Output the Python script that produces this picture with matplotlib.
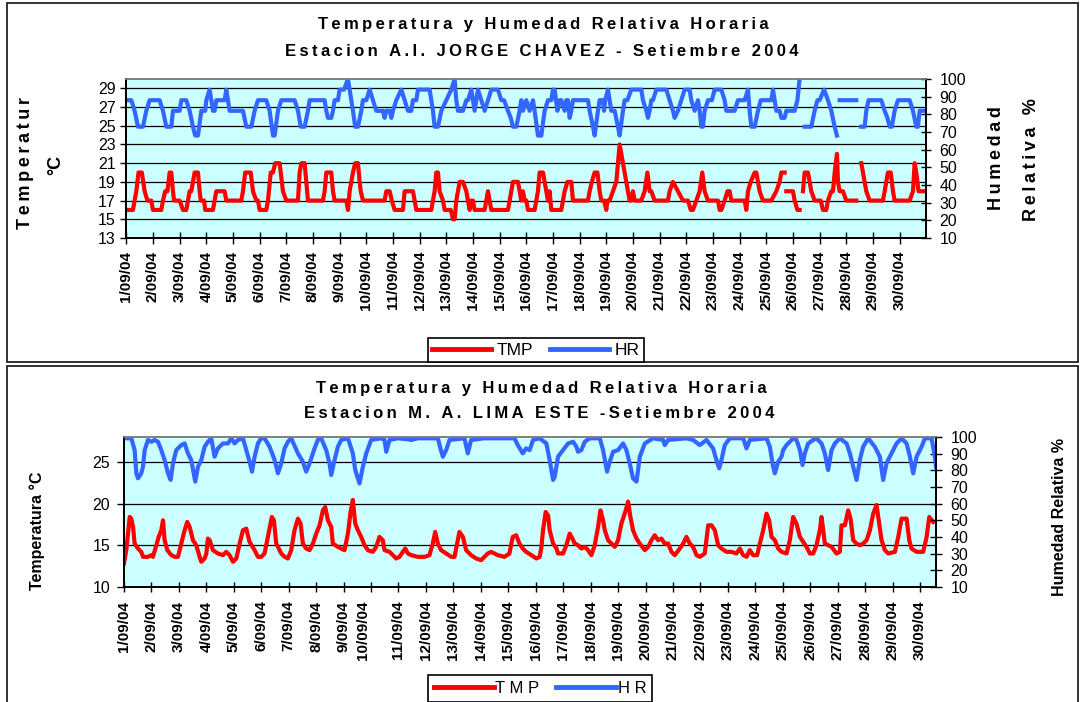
import numpy as np
import matplotlib
matplotlib.use("Agg")
import matplotlib.pyplot as plt
from matplotlib import font_manager as fm
from matplotlib.lines import Line2D
from matplotlib.patches import Rectangle

nan = np.nan
GAP = (nan, nan)

# ------------------------------------------------------------------ data
day_labels = [f"{d}/09/04" for d in range(1, 31)]

# Estacion A.I. Jorge Chavez : (hour from 1/09 00h, value)
jc_tmp_pts = [
    (0, 16), (6, 16), (7.5, 17), (9, 18), (11, 20), (14, 20), (16.5, 18), (19, 17), (22.5, 17), (24, 16),
    (31.5, 16), (33, 17), (35, 18), (37, 18), (39, 20), (40.5, 20), (42, 18), (43, 17), (48, 17),
    (51, 16), (54, 16), (55.5, 17), (57, 18), (58.5, 18), (61.5, 20), (64.5, 20), (66, 18), (67, 17), (70, 17),
    (71, 16), (78, 16), (79.5, 17), (81, 18), (88.5, 18), (90, 17), (103.5, 17),
    (105, 18), (107, 20), (112, 20), (114, 18), (117, 17), (118.5, 17), (120, 16), (126, 16), (127.5, 17),
    (130, 20), (132, 20), (134, 21), (138, 21), (140, 19), (141, 18), (144, 17), (154.5, 17),
    (156, 20), (157.5, 21), (160.5, 21), (162, 19), (163.5, 17), (177, 17), (178.5, 18), (180, 20), (184.5, 20),
    (186, 18), (187.5, 17), (198, 17), (199.5, 16), (201, 18), (204, 20), (206, 21), (208.5, 21), (210, 19),
    (211, 18), (213, 17), (232.5, 17), (234, 18), (237, 18), (239, 17), (241.5, 16), (249, 16), (250.5, 18),
    (258, 18), (259.5, 17), (261, 16), (274.5, 16), (276, 17), (277.5, 18), (279, 20), (280.5, 20), (282, 18),
    (285, 17), (286.5, 16), (292, 16), (294, 15), (295.5, 15), (297, 17), (300, 19), (303, 19), (306, 18),
    (307.5, 17), (309, 16), (310.5, 17), (312, 17), (313.5, 16), (322.5, 16), (324, 17), (325.5, 18), (327, 17),
    (328.5, 16), (343.5, 16), (345, 17), (348, 19), (352.5, 19), (354, 18), (355.5, 17), (357, 18), (358.5, 17),
    (360, 17), (361.5, 16), (367.5, 16), (369, 17), (370.5, 18), (372, 20), (375, 20), (376.5, 19), (378, 18),
    (379.5, 17), (381, 18), (382.5, 16), (391.5, 16), (393, 17), (394.5, 18), (397, 19), (400.5, 19), (402, 17),
    (415.5, 17), (417, 18), (419, 19), (421.5, 20), (424, 20), (426, 18), (427.5, 17), (430, 17), (432, 16),
    (433, 17), (435, 17), (438, 18), (441, 19), (444, 23), (447, 21), (450, 19), (453, 17), (454.5, 17),
    (456, 18), (457.5, 17), (463.5, 17), (466.5, 18), (469, 20), (471, 18), (472.5, 18), (475.5, 17),
    (487.5, 17), (489, 18), (492, 19), (496.5, 18), (501, 17), (505.5, 17), (508, 16), (510, 16), (513, 17),
    (516, 18), (518.4, 20), (520.5, 18), (523.5, 17), (532.5, 17), (534, 16), (535.5, 16), (538.5, 17),
    (541, 18), (543, 18), (544.5, 17), (556.5, 17), (558, 16), (559.5, 18), (562, 19), (565.5, 20), (567, 20),
    (570, 18), (573, 17), (580.5, 17), (585, 18), (588, 19), (589.5, 20), (592.5, 20), GAP,
    (594, 18), (600, 18), (601.5, 17), (604, 16), (606, 16), GAP,
    (609, 18), (610.5, 20), (613.5, 20), (616.5, 18), (619.5, 17), (625, 17), (627, 16), (630, 16),
    (631.5, 17), (634.5, 18), (636, 18), (637.5, 20), (639.6, 22), (640.5, 19), (642, 18), (645, 18),
    (648, 17), (657, 17), GAP,
    (661.5, 21), (663, 20), (664.5, 19), (666, 18), (669, 17), (681, 17), (682.5, 18), (685.5, 20), (688, 20),
    (690, 18), (691.5, 17), (705, 17), (708, 18), (709.5, 21), (711, 20), (713, 18), (720, 18),
]

jc_hr_pts = [
    (0, 88), (4.5, 88), (7.5, 82), (10.5, 73), (15, 73), (18, 82), (21, 88), (30, 88), (33, 82), (36, 73),
    (40.5, 73), (42, 82), (48, 82), (49.5, 88), (54, 88), (57, 82), (60, 73), (62, 68), (64.5, 68), (67.5, 82),
    (71, 82), (72, 88), (75, 94), (76.5, 88), (78, 82), (79.5, 82), (81, 88), (88.5, 88), (90, 94), (91.5, 88),
    (93, 82), (105, 82), (108, 73), (112.5, 73), (115.5, 82), (118.5, 88), (126, 88), (129, 82), (132, 68),
    (133.5, 68), (136.5, 82), (139.5, 88), (151.5, 88), (154.5, 82), (157, 73), (160.5, 73), (163.5, 82),
    (165, 88), (178.5, 88), (180, 82), (181.5, 78), (184.5, 78), (186, 82), (187.5, 88), (190.5, 88),
    (192, 94), (196, 94), (199.5, 100), (201, 94), (202.5, 88), (204, 82), (206, 73), (208.5, 73),
    (211.5, 82), (213, 88), (216, 88), (219, 94), (222, 88), (225, 82), (231, 82), (232.5, 78), (234, 82),
    (237, 82), (238.5, 78), (240, 82), (243, 88), (247.5, 94), (250.5, 88), (253.5, 82), (256.5, 82),
    (258, 88), (261, 88), (262.5, 94), (273, 94), (274.5, 88), (276, 82), (277.5, 73), (280.5, 73),
    (283.5, 82), (288, 88), (292.5, 94), (295.5, 100), (297, 88), (298.5, 82), (303, 82), (306, 88),
    (307.5, 88), (310.5, 94), (313.5, 82), (316.5, 94), (319.5, 88), (322.5, 82), (325.5, 88), (328.5, 94),
    (334.5, 94), (337.5, 88), (340, 88), (343.5, 82), (346, 78), (348, 73), (351, 73), (354, 82),
    (355.5, 88), (357, 82), (360, 88), (363, 82), (366, 88), (367.5, 82), (370.5, 68), (373.5, 68),
    (376.5, 82), (379.5, 88), (382.5, 88), (384, 94), (385.5, 94), (388, 82), (390, 88), (391.5, 88),
    (394.5, 82), (396, 88), (397.5, 88), (399, 78), (400.5, 82), (402, 88), (415.5, 88), (417, 82),
    (420, 73), (421.5, 68), (424.5, 82), (426, 88), (429, 88), (430, 82), (431, 88), (433.5, 94), (435, 88),
    (436.5, 82), (439.5, 82), (442.5, 73), (444, 68), (447, 82), (448.5, 88), (451, 88), (454.5, 94),
    (463.5, 94), (465, 88), (468, 82), (469.5, 78), (471, 82), (472.5, 88), (474, 88), (477, 94), (486, 94),
    (489, 88), (492, 82), (493.5, 78), (496.5, 82), (499.5, 88), (502.5, 94), (507, 94), (508.5, 88),
    (511.5, 82), (514.5, 88), (516, 82), (517.5, 73), (519, 73), (520.5, 82), (523.5, 88), (527, 88),
    (529.5, 94), (535.5, 94), (538.5, 88), (540, 82), (547.5, 82), (550.5, 88), (556.5, 88), (559.5, 94),
    (561, 82), (562.5, 73), (565.5, 73), (568.5, 82), (571, 88), (580.5, 88), (582, 94), (583.5, 88),
    (585, 82), (588, 82), (589.5, 78), (592.5, 78), (594, 82), (601.5, 82), (604, 88), (606, 100), GAP,
    (610.5, 73), (616.5, 73), (619.5, 82), (622, 88), (624, 88), (628, 94), (631.5, 88), (634.5, 82),
    (637.5, 73), (639.6, 68), GAP,
    (642, 88), (657, 88), GAP,
    (661.5, 73), (664.5, 73), (666, 82), (668, 88), (679.5, 88), (682.5, 82), (685, 78), (687, 73),
    (689, 73), (691.5, 82), (694.5, 88), (705, 88), (708, 82), (711, 73), (712.5, 73), (714, 82), (720, 82),
]

# Estacion M.A. Lima Este : (hour index, value)
le_tmp_pts = [
    (0, 12.8), (2, 14.4), (5, 18.4), (6.4, 18.2), (7.9, 17.2), (9.3, 15.2), (12.2, 14.6), (15.1, 14.2),
    (16.6, 13.6), (21, 13.6), (23.9, 13.8), (25.3, 13.6), (28.3, 15.0), (30.3, 16.0), (32.6, 16.8),
    (34.1, 18.0), (35.5, 15.6), (37.9, 14.4), (41.4, 13.8), (44.3, 13.6), (47.2, 13.6), (50.1, 15.2),
    (53, 16.8), (55.3, 17.8), (57.4, 17.2), (60.3, 15.6), (63.2, 15.0), (66.1, 13.6), (67.6, 13.0),
    (70.5, 13.4), (72, 14.0), (73.4, 15.8), (74.9, 15.6), (77.8, 14.4), (82.1, 14.0), (86.5, 13.8),
    (89.4, 14.2), (92.3, 13.8), (95.3, 13.0), (98.2, 13.4), (101.1, 15.2), (104, 16.8), (106.9, 17.0),
    (109.8, 15.4), (114.2, 14.4), (117.1, 13.6), (120, 13.6), (122.9, 14.0), (125.8, 16.0), (129.3, 18.4),
    (131.1, 18.0), (133.1, 15.2), (137.5, 14.0), (140.4, 13.6), (143.3, 13.4), (146.2, 14.4), (149.1, 16.8),
    (152.1, 18.2), (154.4, 17.6), (156.4, 15.2), (159.3, 14.6), (162.3, 14.4), (165.2, 15.2), (168.1, 16.4),
    (171, 17.4), (173.9, 19.2), (175.9, 19.6), (178.3, 18.0), (181.2, 17.2), (182.6, 15.2), (187, 14.8),
    (189.9, 14.6), (192.8, 14.4), (195.8, 16.4), (198.1, 19.0), (200.1, 20.45), (202.2, 17.6), (204.5, 16.8),
    (207.4, 16.0), (210.3, 15.0), (213.2, 14.4), (217.6, 14.2), (220.5, 14.8), (223.4, 16.0), (226.3, 15.6),
    (227.8, 14.4), (232.2, 14.2), (235.1, 13.8), (238, 13.4), (240.9, 13.6), (243.8, 14.2), (245.9, 14.6),
    (248.2, 14.0), (251.1, 13.8), (256.9, 13.6), (262.8, 13.6), (267.1, 13.8), (270, 15.2), (272.1, 16.6),
    (274.4, 15.2), (277.3, 14.4), (281.7, 14.0), (286.1, 13.6), (289, 13.6), (291.9, 15.6), (293.3, 16.6),
    (296.3, 16.0), (299.2, 14.4), (303.5, 13.8), (307.9, 13.4), (312.3, 13.2), (315.2, 13.6), (318.1, 14.0),
    (321, 14.2), (326.8, 13.8), (332.7, 13.6), (337, 14.0), (339.9, 16.0), (342.9, 16.2), (345.8, 15.2),
    (348.7, 14.6), (351.6, 14.2), (356.2, 13.8), (360.6, 13.4), (363.5, 13.6), (365, 14.8), (366.4, 16.8),
    (368.7, 19.0), (370.8, 18.6), (372.2, 16.8), (375.2, 15.2), (378.1, 14.6), (379.5, 14.0), (383.9, 14.0),
    (386.8, 15.0), (389.7, 16.4), (392.1, 15.8), (394.1, 15.2), (397, 15.0), (399.9, 14.6), (402.9, 14.8),
    (405.8, 14.4), (408.7, 13.8), (411.6, 15.0), (414.5, 17.2), (416.6, 19.2), (418.9, 18.0), (420.4, 16.8),
    (423.3, 15.6), (426.2, 15.2), (429.1, 14.8), (432, 15.6), (434.9, 17.6), (438.7, 19.2), (440.8, 20.25),
    (442.8, 18.4), (445.1, 16.8), (448.1, 15.8), (451, 15.2), (455.4, 14.4), (458.3, 14.8), (461.2, 15.6),
    (464.1, 16.2), (467, 15.6), (469.9, 15.8), (472.8, 15.2), (475.8, 15.2), (478.7, 14.2), (481.6, 13.8),
    (486, 14.6), (488.9, 15.2), (491.8, 16.0), (494.7, 15.2), (497.6, 14.8), (500.6, 13.8), (503.5, 13.6),
    (507.8, 14.0), (510.8, 17.4), (513.7, 17.4), (516.6, 16.8), (519.5, 15.0), (522.4, 14.6), (526.8, 14.2),
    (531.2, 14.2), (535.5, 14.0), (538.5, 14.6), (541.4, 13.8), (544.3, 13.6), (547.2, 14.4), (550.1, 13.8),
    (553.6, 13.8), (556, 15.2), (558.9, 16.8), (561.8, 18.8), (564.1, 18.0), (566.2, 16.0), (569.1, 15.6),
    (572, 14.6), (574.9, 14.2), (579.3, 14.0), (582.2, 15.6), (585.1, 18.4), (588, 17.6), (591, 16.0),
    (593.9, 15.4), (596.8, 14.8), (599.7, 14.0), (602.6, 14.0), (605.5, 15.0), (608.4, 16.8), (609.9, 18.4),
    (611.4, 16.8), (612.8, 15.2), (615.7, 15.0), (618.7, 14.8), (623, 14.0), (625.9, 14.2), (627.4, 17.4),
    (630.3, 17.4), (633.2, 19.2), (635.3, 18.2), (637.6, 15.6), (640.5, 15.2), (643.4, 15.0), (646.3, 15.2),
    (649.3, 15.6), (652.2, 16.8), (655.1, 18.8), (658, 19.85), (660.3, 17.6), (662.4, 15.6), (665.3, 14.4),
    (668.2, 14.0), (674.1, 14.2), (677, 16.0), (679.9, 18.2), (684.3, 18.2), (686.6, 15.6), (688.6, 14.6),
    (693, 14.2), (698.8, 14.2), (701.8, 16.0), (704.1, 18.4), (707.6, 17.8),
]

le_hr_pts = [
    (0, 99.4), (6.4, 99.4), (9.3, 92.3), (10.8, 78.3), (12.2, 75.3), (15.1, 78.3), (16.6, 82.3), (18.1, 92.3),
    (19.5, 95.3), (21, 98.4), (23.9, 97.3), (26.8, 98.4), (29.7, 97.3), (32.6, 92.3), (35.5, 86.3),
    (38.5, 78.3), (40.8, 74.3), (42.8, 84.3), (45.7, 92.3), (50.1, 95.3), (53, 96.3), (55.9, 90.3),
    (58.8, 86.3), (62.3, 73.3), (64.7, 82.3), (67.6, 86.3), (70.5, 94.3), (73.4, 97.3), (76.3, 99.4),
    (79.2, 88.3), (82.1, 93.3), (86.5, 96.3), (90.9, 96.3), (93.8, 99.4), (96.7, 96.3), (99.6, 98.4),
    (104, 99.4), (106.9, 92.3), (109.8, 85.3), (111.9, 79.3), (114.2, 88.3), (117.1, 96.3), (120, 99.4),
    (122.9, 99.4), (127.3, 94.3), (131.7, 86.3), (134.6, 78.3), (137.5, 84.3), (140.4, 93.3), (143.3, 97.3),
    (146.2, 99.4), (152.1, 90.3), (156.4, 85.3), (159.3, 79.3), (162.3, 84.3), (166.6, 93.3), (169.5, 98.4),
    (172.4, 99.4), (176.8, 92.3), (179.7, 84.3), (181.2, 77.3), (184.1, 86.3), (187, 94.3), (189.9, 98.4),
    (195.8, 99.4), (200.1, 90.3), (202.2, 80.3), (205.9, 72.2), (208.9, 82.3), (211.8, 90.3), (216.1, 98.4),
    (224.9, 99.4), (227.8, 98.4), (229.3, 91.3), (232.2, 98.4), (239.4, 99.4), (248.2, 98.8), (251.1, 98.4),
    (256.9, 99.4), (274.4, 99.4), (276.7, 93.3), (278.8, 88.3), (281.7, 92.3), (284.6, 98.4), (297.7, 99.4),
    (300.6, 90.3), (303.5, 98.4), (315.2, 99.4), (341.4, 99.4), (344.3, 95.3), (348.7, 90.3), (351.6, 93.3),
    (354.7, 92.3), (357.7, 98.4), (363.5, 99.4), (369.3, 96.3), (372.2, 86.3), (375.2, 74.3), (376.6, 76.3),
    (379.5, 88.3), (383.9, 92.3), (388.3, 96.3), (392.7, 97.3), (395.6, 94.3), (397, 91.3), (399.9, 92.3),
    (402.9, 97.3), (407.2, 99.4), (416, 99.4), (418.9, 92.3), (422.4, 79.3), (424.7, 85.3), (427.7, 91.3),
    (432, 92.3), (436.4, 96.3), (439.3, 92.3), (442.2, 84.3), (445.1, 75.3), (448.1, 73.3), (449.5, 80.3),
    (451, 88.3), (455.4, 96.3), (462.6, 99.4), (471.4, 98.4), (472.8, 95.3), (475.8, 98.4), (491.8, 99.4),
    (497.6, 98.4), (503.5, 95.3), (509.3, 98.4), (515.1, 93.3), (518, 86.3), (520.4, 81.3), (522.4, 86.3),
    (525.3, 95.3), (529.7, 99.4), (541.4, 99.4), (544.3, 93.3), (547.2, 98.4), (561.8, 99.4), (564.7, 94.3),
    (567.6, 82.3), (569.1, 78.3), (572, 85.3), (574.9, 88.3), (576.4, 92.3), (579.3, 95.3), (582.2, 97.3),
    (585.1, 99.4), (588, 98.4), (591, 92.3), (593.3, 83.3), (595.3, 90.3), (598.2, 96.3), (602.6, 98.4),
    (605.5, 99.4), (609.9, 96.3), (612.8, 90.3), (615.7, 80.3), (618.7, 92.3), (621.6, 96.3), (625.9, 99.4),
    (631.8, 96.3), (634.7, 90.3), (637.6, 82.3), (640.5, 74.3), (643.4, 86.3), (646.3, 94.3), (650.7, 99.4),
    (656.5, 94.3), (660.9, 88.3), (663.8, 74.3), (666.7, 84.3), (671.1, 90.3), (675.5, 96.3), (679.9, 99.4),
    (684.3, 96.3), (687.2, 88.3), (690.1, 78.3), (693, 88.3), (697.4, 94.3), (700.3, 99.4), (706.1, 99.4),
    (709, 88.3), (710, 82.3),
]

# -------------------------------------------------------------- styling
RED = "#FF0000"
BLUE = "#3366FF"
CYAN = "#CCFFFF"
W, H = 1080, 702

names = {f.name for f in fm.fontManager.ttflist}
NARROW = "Liberation Sans Narrow" if "Liberation Sans Narrow" in names else "Liberation Sans"
NSZ = 13 if NARROW == "Liberation Sans Narrow" else 11
plt.rcParams["font.family"] = ["Liberation Sans", "DejaVu Sans"]


def spaced(s):
    return "\u2009".join(s)


def fx(px):
    return px / W


def fy(py):
    return 1 - py / H


def xy(pts):
    a = np.array(pts, dtype=float)
    return a[:, 0], a[:, 1]


fig = plt.figure(figsize=(10.8, 7.02), dpi=100)

# panel frames
fig.patches.append(Rectangle((fx(7), fy(362)), fx(1078) - fx(7), fy(3) - fy(362),
                             transform=fig.transFigure, fill=False, ec="#222222", lw=1.3))
fig.patches.append(Rectangle((fx(7), -0.01), fx(1078) - fx(7), fy(366) + 0.01,
                             transform=fig.transFigure, fill=False, ec="#222222", lw=1.3))


def style_axes(ax, axr):
    ax.set_facecolor(CYAN)
    for a in (ax, axr):
        a.spines["top"].set_color("#808080")
        a.spines["top"].set_linewidth(1.2)
        for s in ("left", "bottom", "right"):
            a.spines[s].set_color("black")
            a.spines[s].set_linewidth(1.4)
    ax.grid(axis="y", color="black", lw=0.9)
    ax.grid(axis="x", visible=False)
    ax.set_axisbelow(True)


# ------------------------------------------------------------ top panel
ax1 = fig.add_axes([fx(126.3), fy(238), fx(926.3) - fx(126.3), fy(79) - fy(238)])
ax1r = ax1.twinx()
style_axes(ax1, ax1r)
ax1.set_xlim(0, 720)
ax1.set_ylim(13, 30)
ax1.set_yticks(range(13, 30, 2))
ax1r.set_ylim(10, 100)
ax1r.set_yticks(range(10, 101, 10))
ax1.set_xticks(range(0, 720, 24))
ax1.set_xticklabels(day_labels, rotation=90, family=[NARROW, "DejaVu Sans"],
                    fontweight="bold", fontsize=NSZ, va="top", ha="center")
ax1.tick_params(axis="x", direction="inout", length=8.5, width=1, pad=5)
ax1.tick_params(axis="y", direction="out", length=4.5, width=1, pad=3, labelsize=11.5)
ax1r.tick_params(axis="y", direction="inout", length=7, width=1, pad=6, labelsize=11.5)

x, y = xy(jc_tmp_pts)
ax1.plot(x, y, color=RED, lw=3.0, solid_joinstyle="round")
x, y = xy(jc_hr_pts)
ax1r.plot(x, y, color=BLUE, lw=3.0, solid_joinstyle="round")

tkw = dict(ha="center", va="center", fontweight="bold", fontsize=12)
fig.text(fx(543), fy(25), spaced("Temperatura y Humedad Relativa Horaria"), **tkw)
fig.text(fx(542), fy(52), spaced("Estacion A.I. JORGE CHAVEZ - Setiembre 2004"), **tkw)

lkw = dict(ha="center", va="center", rotation=90, fontweight="bold", fontsize=13)
fig.text(fx(26), fy(163), spaced("Temperatur"), **lkw)
fig.text(fx(56), fy(165), "°C", **lkw)
fig.text(fx(996), fy(158), spaced("Humedad"), **lkw)
fig.text(fx(1031), fy(160), spaced("Relativa %"), **lkw)

handles = [Line2D([], [], color=RED, lw=3.5), Line2D([], [], color=BLUE, lw=3.5)]
leg1 = fig.legend(handles, ["TMP", "HR"], loc="lower center", bbox_to_anchor=(fx(536), fy(362)),
                  ncol=2, frameon=True, fancybox=False, edgecolor="black", framealpha=1,
                  fontsize=12.5, handlelength=3.4, handletextpad=0.3, columnspacing=1.0,
                  borderpad=0.25, borderaxespad=0)
leg1.get_frame().set_linewidth(1.2)

# --------------------------------------------------------- bottom panel
ax2 = fig.add_axes([fx(124), fy(586.7), fx(936) - fx(124), fy(437.3) - fy(586.7)])
ax2r = ax2.twinx()
style_axes(ax2, ax2r)
ax2.set_xlim(0, 710)
ax2.set_ylim(10, 28)
ax2.set_yticks([10, 15, 20, 25])
ax2r.set_ylim(10, 100)
ax2r.set_yticks(range(10, 101, 10))
ax2.xaxis.remove_overlapping_locs = False
ax2.set_xticks(range(0, 710, 24), minor=True)
label_pos = [d * 24 for d in range(30)]
label_pos[9] = 9 * 24 - 7
ax2.set_xticks(label_pos)
ax2.set_xticklabels(day_labels, rotation=90, family=[NARROW, "DejaVu Sans"],
                    fontweight="bold", fontsize=NSZ, va="top", ha="center")
ax2.tick_params(axis="x", which="major", length=0, pad=10)
ax2.tick_params(axis="x", which="minor", direction="inout", length=7, width=1)
ax2.tick_params(axis="y", direction="out", length=5, width=1, pad=5, labelsize=11.5)
ax2r.tick_params(axis="y", direction="inout", length=9, width=1, pad=6, labelsize=11.5)

x, y = xy(le_tmp_pts)
ax2.plot(x, y, color=RED, lw=3.0, solid_joinstyle="round")
x, y = xy(le_hr_pts)
ax2r.plot(x, y, color=BLUE, lw=3.0, solid_joinstyle="round")

fig.text(fx(541), fy(388), spaced("Temperatura y Humedad Relativa Horaria"), **tkw)
fig.text(fx(539), fy(413), spaced("Estacion M. A. LIMA ESTE -Setiembre 2004"), **tkw)

nkw = dict(ha="center", va="center", rotation=90, fontweight="bold", fontsize=NSZ + 0.5,
           family=[NARROW, "DejaVu Sans"])
fig.text(fx(37), fy(531), "Temperatura °C", **nkw)
fig.text(fx(1060), fy(517), "Humedad Relativa %", **nkw)

handles2 = [Line2D([], [], color=RED, lw=3.5), Line2D([], [], color=BLUE, lw=3.5)]
leg2 = fig.legend(handles2, ["T M P", "H R"], loc="lower center", bbox_to_anchor=(fx(540), 0),
                  ncol=2, frameon=True, fancybox=False, edgecolor="black", framealpha=1,
                  fontsize=12, handlelength=3.6, handletextpad=0.1, columnspacing=1.0,
                  borderpad=0.35, borderaxespad=0)
leg2.get_frame().set_linewidth(1.2)

fig.savefig("out.png", dpi=100)
